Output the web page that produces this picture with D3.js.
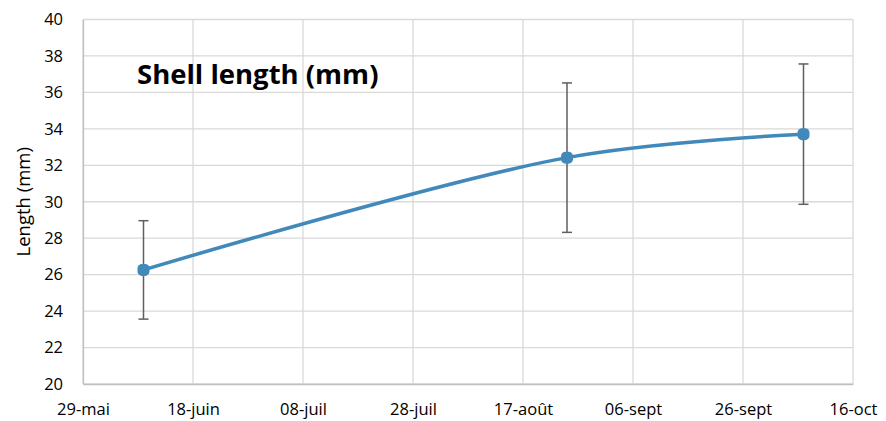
<!DOCTYPE html>
<html>
<head>
<meta charset="utf-8">
<script src="https://cdn.jsdelivr.net/npm/d3@7"></script>
<style>
  body { margin: 0; background: #fff; }
  text { font-family: "Open Sans", "Liberation Sans", sans-serif; }
</style>
</head>
<body>
<div id="chart"></div>
<script>
// Sampling dates and mean shell length with standard deviation
const dates = ["2023-06-09", "2023-08-25", "2023-10-07"];
const means = [26.26, 32.42, 33.71];
const errors = [2.7, 4.1, 3.85];

// Axis ticks
const xTicks = ["2023-05-29", "2023-06-18", "2023-07-08", "2023-07-28", "2023-08-17", "2023-09-06", "2023-09-26", "2023-10-16"];
const xTickLabels = ["29-mai", "18-juin", "08-juil", "28-juil", "17-août", "06-sept", "26-sept", "16-oct"];
const yTicks = [20, 22, 24, 26, 28, 30, 32, 34, 36, 38, 40];

const parse = d3.timeParse("%Y-%m-%d");
const data = dates.map((d, i) => ({ date: parse(d), mean: means[i], err: errors[i] }));
const tickDates = xTicks.map(parse);

const width = 886, height = 421;
const margin = { top: 19.5, right: 33, bottom: 37, left: 83 };

const svg = d3.select("#chart").append("svg")
    .attr("width", width)
    .attr("height", height);

const x = d3.scaleTime()
    .domain([tickDates[0], tickDates[tickDates.length - 1]])
    .range([margin.left, width - margin.right]);

const y = d3.scaleLinear()
    .domain([20, 40])
    .range([height - margin.bottom, margin.top]);

// Gridlines
svg.append("g")
    .selectAll("line.h")
    .data(yTicks)
    .enter().append("line")
    .attr("x1", margin.left).attr("x2", width - margin.right)
    .attr("y1", d => y(d)).attr("y2", d => y(d))
    .attr("stroke", "#d9d9d9").attr("stroke-width", 1.3);

svg.append("g")
    .selectAll("line.v")
    .data(tickDates)
    .enter().append("line")
    .attr("x1", d => x(d)).attr("x2", d => x(d))
    .attr("y1", margin.top).attr("y2", height - margin.bottom)
    .attr("stroke", "#d9d9d9").attr("stroke-width", 1.3);

// Axes
const xAxis = svg.append("g")
    .attr("transform", `translate(0,${height - margin.bottom})`)
    .call(d3.axisBottom(x).tickValues(tickDates).tickSize(0).tickPadding(19)
        .tickFormat((d, i) => xTickLabels[i]));
xAxis.select(".domain").attr("stroke", "#bfbfbf").attr("stroke-width", 1.3);
xAxis.selectAll("text").attr("font-size", 16.5).attr("fill", "#000");

const yAxis = svg.append("g")
    .attr("transform", `translate(${margin.left},0)`)
    .call(d3.axisLeft(y).tickValues(yTicks).tickSize(0).tickPadding(20));
yAxis.select(".domain").attr("stroke", "#bfbfbf").attr("stroke-width", 1.3);
yAxis.selectAll("text").attr("font-size", 16.5).attr("fill", "#000");

// Y axis title
svg.append("text")
    .attr("transform", `translate(30,${(margin.top + height - margin.bottom) / 2}) rotate(-90)`)
    .attr("text-anchor", "middle")
    .attr("font-size", 18.5)
    .text("Length (mm)");

// Chart title
svg.append("text")
    .attr("x", 137)
    .attr("y", 84)
    .attr("font-size", 27.5)
    .attr("font-weight", "bold")
    .text("Shell length (mm)");

// Error bars
const eb = svg.append("g").attr("stroke", "#5f5f5f").attr("stroke-width", 1.5);
eb.selectAll("line.bar").data(data).enter().append("line")
    .attr("x1", d => x(d.date)).attr("x2", d => x(d.date))
    .attr("y1", d => y(d.mean - d.err)).attr("y2", d => y(d.mean + d.err));
eb.selectAll("line.top").data(data).enter().append("line")
    .attr("x1", d => x(d.date) - 5).attr("x2", d => x(d.date) + 5)
    .attr("y1", d => y(d.mean + d.err)).attr("y2", d => y(d.mean + d.err));
eb.selectAll("line.bot").data(data).enter().append("line")
    .attr("x1", d => x(d.date) - 5).attr("x2", d => x(d.date) + 5)
    .attr("y1", d => y(d.mean - d.err)).attr("y2", d => y(d.mean - d.err));

// Smoothed line
const line = d3.line()
    .x(d => x(d.date))
    .y(d => y(d.mean))
    .curve(d3.curveCatmullRom.alpha(0.5));

svg.append("path")
    .datum(data)
    .attr("d", line)
    .attr("fill", "none")
    .attr("stroke", "#4189bb")
    .attr("stroke-width", 3.5);

// Markers
svg.selectAll("rect.marker")
    .data(data)
    .enter().append("rect")
    .attr("x", d => x(d.date) - 6)
    .attr("y", d => y(d.mean) - 6)
    .attr("width", 12).attr("height", 12)
    .attr("rx", 4.5)
    .attr("fill", "#4189bb");
</script>
</body>
</html>
